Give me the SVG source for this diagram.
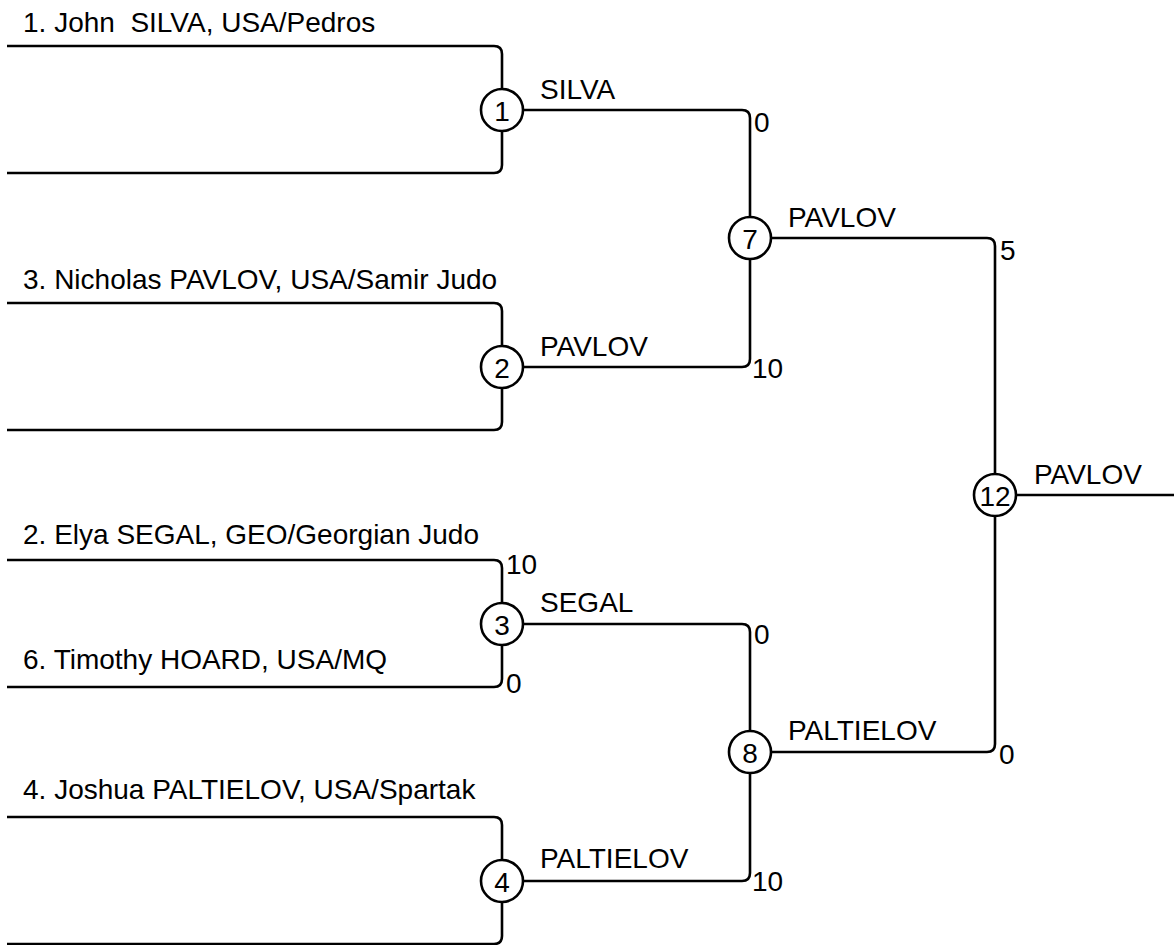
<svg xmlns="http://www.w3.org/2000/svg" width="1174" height="945" viewBox="0 0 1174 945">
<style>
  .ln { fill: none; stroke: #000; stroke-width: 2.6; }
  .c { fill: #fff; stroke: #000; stroke-width: 2.6; }
  text { font-family: "Liberation Sans", Arial, sans-serif; font-size: 28px; fill: #000; white-space: pre; }
  .n { text-anchor: middle; dominant-baseline: central; }
</style>
<rect width="1174" height="945" fill="#fff"/>
<g id="connectors">
  <path class="ln" d="M7,46 H494 Q502,46 502,54 V165 Q502,173 494,173 H7"/>
  <path class="ln" d="M7,303 H494 Q502,303 502,311 V422 Q502,430 494,430 H7"/>
  <path class="ln" d="M7,560 H494 Q502,560 502,568 V679 Q502,687 494,687 H7"/>
  <path class="ln" d="M7,817 H494 Q502,817 502,825 V936 Q502,944 494,944 H7"/>
  <path class="ln" d="M502,110 H742 Q750,110 750,118 V359 Q750,367 742,367 H502"/>
  <path class="ln" d="M502,624 H742 Q750,624 750,632 V873 Q750,881 742,881 H502"/>
  <path class="ln" d="M750,238 H987 Q995,238 995,246 V744 Q995,752 987,752 H750"/>
  <path class="ln" d="M995,495 H1174"/>
</g>
<g id="entrants">
  <text x="23" y="32" xml:space="preserve">1. John  SILVA, USA/Pedros</text>
  <text x="23" y="289">3. Nicholas PAVLOV, USA/Samir Judo</text>
  <text x="23" y="544">2. Elya SEGAL, GEO/Georgian Judo</text>
  <text x="23" y="669">6. Timothy HOARD, USA/MQ</text>
  <text x="23" y="799">4. Joshua PALTIELOV, USA/Spartak</text>
</g>
<g id="winners">
  <text x="540" y="99">SILVA</text>
  <text x="540" y="356">PAVLOV</text>
  <text x="540" y="612">SEGAL</text>
  <text x="540" y="868">PALTIELOV</text>
  <text x="788" y="227">PAVLOV</text>
  <text x="788" y="740">PALTIELOV</text>
  <text x="1034" y="484">PAVLOV</text>
</g>
<g id="scores">
  <text x="754" y="132">0</text>
  <text x="752" y="378">10</text>
  <text x="506" y="574">10</text>
  <text x="506" y="693">0</text>
  <text x="754" y="644">0</text>
  <text x="752" y="891">10</text>
  <text x="1000" y="260">5</text>
  <text x="999" y="764">0</text>
</g>
<g id="match1"><circle class="c" cx="502" cy="110" r="21"/><text class="n" x="502" y="111">1</text></g>
<g id="match2"><circle class="c" cx="502" cy="367" r="21"/><text class="n" x="502" y="368">2</text></g>
<g id="match3"><circle class="c" cx="502" cy="624" r="21"/><text class="n" x="502" y="625">3</text></g>
<g id="match4"><circle class="c" cx="502" cy="881" r="21"/><text class="n" x="502" y="882">4</text></g>
<g id="match7"><circle class="c" cx="750" cy="238" r="21"/><text class="n" x="750" y="239">7</text></g>
<g id="match8"><circle class="c" cx="750" cy="752" r="21"/><text class="n" x="750" y="753">8</text></g>
<g id="match12"><circle class="c" cx="995" cy="495" r="21"/><text class="n" x="995" y="496">12</text></g>
</svg>
